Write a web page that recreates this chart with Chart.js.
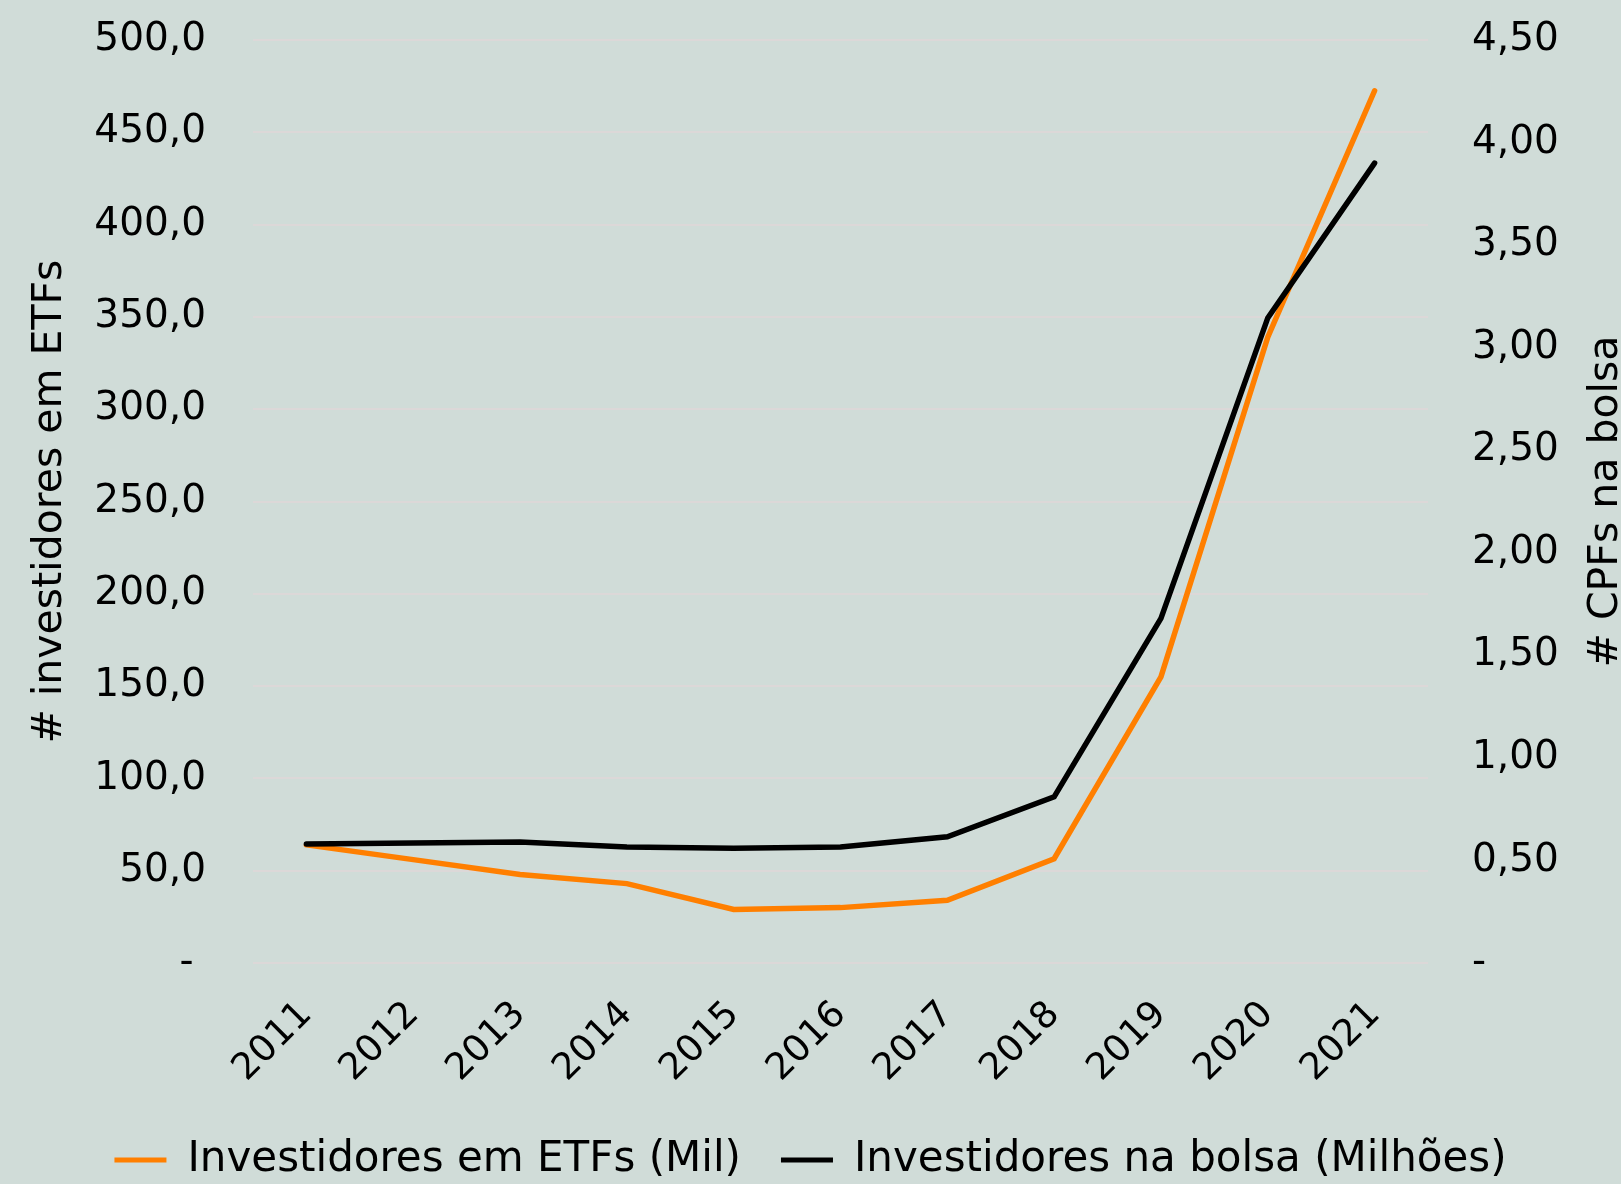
<!DOCTYPE html>
<html>
<head>
<meta charset="utf-8">
<script src="https://cdn.jsdelivr.net/npm/chart.js@4.4.1/dist/chart.umd.min.js"></script>
<style>
  html, body { margin: 0; padding: 0; background: #d0dcd8; overflow: hidden; }
  #wrap { width: 1621px; height: 1184px; }
</style>
</head>
<body>
<div id="wrap"><canvas id="chart"></canvas></div>
<script>
const years = ["2011", "2012", "2013", "2014", "2015", "2016", "2017", "2018", "2019", "2020", "2021"];
// investidores em ETFs (mil) - eixo esquerdo
const etfInvestors = [64, 56, 48, 43, 29, 30, 34, 56.5, 155, 339, 472.5];
// investidores na bolsa (milhões) - eixo direito
const stockInvestors = [0.58, 0.585, 0.59, 0.565, 0.56, 0.565, 0.615, 0.81, 1.68, 3.145, 3.9];

const leftTitle = "# investidores em ETFs";
const rightTitle = "# CPFs na bolsa";

const FONT = "DejaVu Sans";

// titulo do eixo direito lido de baixo para cima, como no Excel
const rightTitlePlugin = {
  id: "rightTitle",
  afterDraw(chart) {
    const { ctx, chartArea } = chart;
    ctx.save();
    ctx.font = "41px '" + FONT + "'";
    ctx.fillStyle = "#000";
    ctx.textAlign = "center";
    ctx.textBaseline = "alphabetic";
    ctx.translate(1617, (chartArea.top + chartArea.bottom) / 2);
    ctx.rotate(-Math.PI / 2);
    ctx.fillText(rightTitle, 0, 0);
    ctx.restore();
  },
};

new Chart(document.getElementById("chart").getContext("2d"), {
  type: "line",
  data: {
    labels: years,
    datasets: [
      {
        label: "Investidores em ETFs (Mil)",
        data: etfInvestors,
        borderColor: "#ff7f00",
        backgroundColor: "#ff7f00",
        borderWidth: 5.5,
        borderCapStyle: "round",
        pointRadius: 0,
        tension: 0,
        yAxisID: "y",
        order: 1,
      },
      {
        label: "Investidores na bolsa (Milhões)",
        data: stockInvestors,
        borderColor: "#000",
        backgroundColor: "#000",
        borderWidth: 5.5,
        borderCapStyle: "round",
        pointRadius: 0,
        tension: 0,
        yAxisID: "y1",
        order: 0,
      },
    ],
  },
  options: {
    responsive: true,
    maintainAspectRatio: false,
    animation: false,
    layout: { padding: { top: 40, left: 0, right: 0, bottom: -7 } },
    scales: {
      x: {
        offset: true,
        grid: { display: false },
        border: { display: false },
        ticks: {
          color: "#000",
          font: { family: FONT, size: 37 },
          minRotation: 45,
          maxRotation: 45,
          autoSkip: false,
          padding: 22,
        },
        afterFit(scale) {
          scale.height = 136;
        },
      },
      y: {
        position: "left",
        min: 0,
        max: 500,
        grid: {
          color: "#dcd8d8",
          lineWidth: 2,
          drawTicks: true,
          tickLength: 45,
          tickColor: "rgba(0,0,0,0)",
        },
        border: { display: false },
        ticks: {
          stepSize: 50,
          color: "#000",
          font: { family: FONT, size: 39 },
          padding: 2,
          callback: (v) => (v === 0 ? "- " : v.toFixed(1).replace(".", ",")),
        },
        title: {
          display: true,
          text: leftTitle,
          color: "#000",
          font: { family: FONT, size: 41 },
          padding: { top: 26, bottom: 0 },
        },
        afterFit(scale) {
          scale.width = 253;
        },
      },
      y1: {
        position: "right",
        min: 0,
        max: 4.5,
        grid: {
          display: true,
          drawOnChartArea: false,
          drawTicks: true,
          tickLength: 42,
          tickColor: "rgba(0,0,0,0)",
        },
        border: { display: false },
        ticks: {
          stepSize: 0.5,
          color: "#000",
          font: { family: FONT, size: 39 },
          padding: 2,
          callback: (v) => (v === 0 ? "-" : v.toFixed(2).replace(".", ",")),
        },
        afterFit(scale) {
          scale.width = 193;
        },
      },
    },
    plugins: {
      tooltip: { enabled: false },
      legend: {
        position: "bottom",
        labels: {
          color: "#000",
          font: { family: FONT, size: 42 },
          boxWidth: 52,
          boxHeight: 5,
          padding: 40,
          sort: (a, b) => a.datasetIndex - b.datasetIndex,
          generateLabels: (chart) =>
            Chart.defaults.plugins.legend.labels.generateLabels(chart).map((l) => ({
              ...l,
              fillStyle: l.strokeStyle,
              lineWidth: 0,
            })),
        },
      },
    },
  },
  plugins: [rightTitlePlugin],
});
</script>
</body>
</html>
